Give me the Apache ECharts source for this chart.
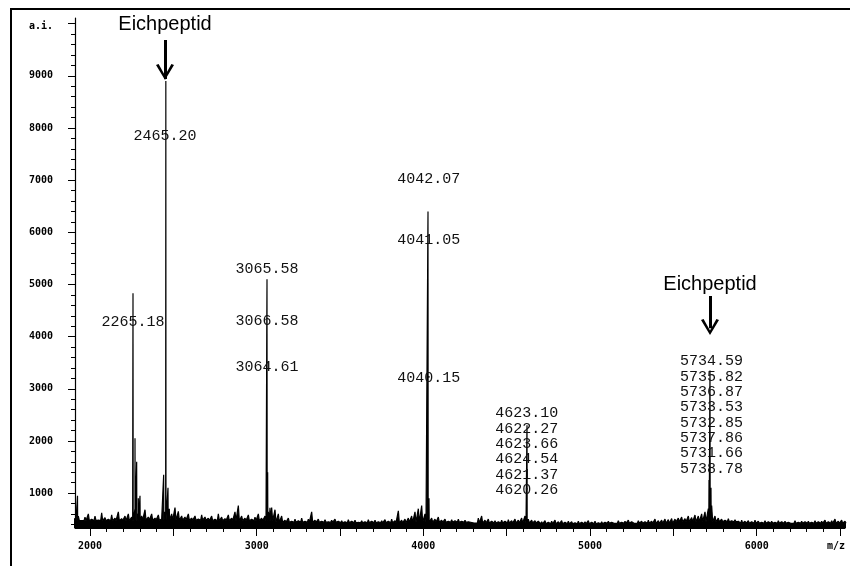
<!DOCTYPE html>
<html>
<head>
<meta charset="utf-8">
<script src="https://cdn.jsdelivr.net/npm/echarts@6/dist/echarts.min.js"></script>
<style>html,body{margin:0;padding:0;background:#fff}#c{width:850px;height:566px}</style>
</head>
<body>
<div id="c"></div>
<script>
// ---- data ----
const xAxisName = 'm/z';
const yAxisName = 'a.i.';
const xTickLabels = [2000, 3000, 4000, 5000, 6000];
const yTickLabels = [1000, 2000, 3000, 4000, 5000, 6000, 7000, 8000, 9000];
// baseline noise spike tops, one every 20 m/z starting at m/z 1910
const noiseStartMz = 1910;
const noiseStepMz = 20;
const noise = [
  520, 560, 470, 540, 600, 500, 560, 480, 620, 530, 500, 580, 520, 640, 510, 560, 600, 540, 700, 620,
  560, 680, 540, 600, 520, 580, 500, 640, 560, 600, 720, 650, 560, 540, 600, 520, 560, 500, 580, 540,
  520, 560, 500, 600, 540, 510, 580, 520, 640, 760, 560, 520, 580, 500, 540, 600, 520, 560, 640, 720,
  680, 600, 560, 480, 520, 460, 500, 470, 520, 460, 500, 640, 480, 500, 460, 490, 450, 480, 500, 460,
  470, 450, 490, 460, 480, 440, 470, 450, 490, 460, 480, 450, 470, 490, 460, 500, 470, 660, 480, 500,
  520, 560, 640, 700, 760, 600, 560, 520, 500, 540, 480, 500, 460, 490, 470, 500, 460, 480, 450, 470,
  460, 520, 560, 480, 500, 460, 470, 450, 480, 460, 490, 470, 500, 480, 520, 560, 500, 480, 470, 460,
  450, 470, 440, 460, 480, 450, 470, 440, 460, 450, 430, 460, 440, 450, 470, 440, 460, 430, 450, 440,
  460, 440, 450, 470, 440, 460, 480, 450, 440, 470, 460, 450, 480, 460, 500, 470, 480, 500, 490, 510,
  500, 520, 540, 510, 560, 530, 580, 560, 600, 640, 700, 760, 560, 520, 500, 480, 510, 470, 490, 460,
  480, 460, 470, 450, 480, 460, 440, 470, 450, 460, 440, 470, 450, 460, 440, 450, 470, 440, 460, 450,
  460, 440, 470, 450, 460, 480, 450, 470, 500, 460, 480, 460
];
// noise floor between spikes, one value per 400 m/z block (20 samples)
const noiseFloor = [470, 480, 470, 440, 430, 440, 425, 410, 420, 450, 420, 420];
// peaks (m/z as drawn, intensity)
const peakMz     = [1925, 2258, 2270, 2280, 2290, 2300, 2442, 2455, 2468, 2476, 3062, 3066, 3080, 4028, 4034, 4622, 5714, 5720, 5726];
const peakHeight = [ 950, 4830, 2050, 1600,  900,  950, 1350, 8900, 1100,  700, 5100, 1400,  720, 6400,  900, 2300, 1250, 3350, 1100];
// peak annotations
const annotTexts = [
  ['2265.18'],
  ['2465.20'],
  ['3065.58'], ['3066.58'], ['3064.61'],
  ['4042.07'], ['4041.05'], ['4040.15'],
  ['4623.10', '4622.27', '4623.66', '4624.54', '4621.37', '4620.26'],
  ['5734.59', '5735.82', '5736.87', '5733.53', '5732.85', '5737.86', '5731.66', '5738.78']
];
const calibText = 'Eichpeptid';

// ---- build ----
const floorAt = mz => noiseFloor[Math.min(noiseFloor.length - 1, Math.max(0, Math.floor((mz - noiseStartMz) / (noiseStepMz * 20))))];
const pts = [];
noise.forEach((v, i) => {
  const mz = noiseStartMz + i * noiseStepMz;
  const f = floorAt(mz);
  pts.push([mz - 6, f], [mz, v], [mz + 6, f]);
});
peakMz.forEach((mz, i) => {
  const b = floorAt(mz);
  pts.push([mz - 1, b], [mz, peakHeight[i]], [mz + 1, b]);
});
pts.sort((a, b) => a[0] - b[0]);

const xMin = 1910, xMax = 6530, yMin = 330, yMax = 10110;
const xMajor = [], xMinor = [];
for (let v = 2000; v <= 6500; v += 100) { (v % 500 === 0 ? xMajor : xMinor).push(v); }
const yMajor = [], yMinor = [];
for (let v = 400; v <= 10000; v += 200) { (v % 1000 === 0 ? yMajor : yMinor).push(v); }
const xNamePos = 6476, yNamePos = 9950;

const annotAnchors = [
  [2258, 4286], [2450, 7847],
  [3062, 5296], [3062, 4299], [3062, 3411],
  [4033, 7022], [4033, 5853], [4033, 3200],
  [4620, 1793], [5729, 2497]
];
const monoLabel = {fontFamily: 'Liberation Mono', fontSize: 15, color: '#111', lineHeight: 15.3};
const mpData = annotTexts.map((lines, i) => ({
  coord: annotAnchors[i], symbol: 'rect', symbolSize: 1,
  itemStyle: {color: 'rgba(0,0,0,0)'},
  label: Object.assign({show: true, position: 'inside', formatter: lines.join('\n')}, monoLabel)
}));
const calibSpots = [[2450, 9994, 9688, 8940], [5720, 5009, 4779, 4160]];
calibSpots.forEach(c => {
  mpData.push({coord: [c[0], c[1]], symbol: 'rect', symbolSize: 1, itemStyle: {color: 'rgba(0,0,0,0)'},
    label: {show: true, position: 'inside', formatter: calibText, fontFamily: 'Liberation Sans', fontSize: 20, color: '#000'}});
});
const chev = 'path://M0,1 L2.6,0 L9,11.5 L15.4,0 L18,1 L9,16 Z';
const mlData = [];
calibSpots.forEach(c => {
  mlData.push([{coord: [c[0], c[2]]}, {coord: [c[0], c[3]]}]);
});
const headSpots = [[2450, 8920], [5720, 4031]];
headSpots.forEach(h => {
  mpData.push({coord: h, symbol: chev, symbolSize: [18, 16], symbolOffset: [0, -8], itemStyle: {color: '#000'}, label: {show: false}});
});

const tickFont = {fontFamily: 'DejaVu Sans Mono', fontWeight: 'bold', fontSize: 10, color: '#000'};
const chart = echarts.init(document.getElementById('c'), null, {renderer: 'canvas'});
chart.setOption({
  animation: false,
  backgroundColor: '#fff',
  grid: {left: 75, right: 5, top: 18, bottom: 38},
  xAxis: [
    {type: 'value', min: xMin, max: xMax, position: 'bottom',
      axisLine: {show: true, onZero: false, lineStyle: {color: '#000', width: 1}},
      axisTick: {show: true, customValues: xMajor, length: 8, lineStyle: {color: '#000'}},
      axisLabel: Object.assign({show: true, customValues: xTickLabels.concat([xNamePos]), margin: 13,
        formatter: v => v === xNamePos ? xAxisName : String(v)}, tickFont),
      splitLine: {show: false}},
    {type: 'value', min: xMin, max: xMax, position: 'bottom',
      axisLine: {show: false}, axisTick: {show: true, customValues: xMinor, length: 4, lineStyle: {color: '#000'}},
      axisLabel: {show: false}, splitLine: {show: false}}
  ],
  yAxis: [
    {type: 'value', min: yMin, max: yMax, position: 'left',
      axisLine: {show: true, onZero: false, lineStyle: {color: '#000', width: 1.2}},
      axisTick: {show: true, customValues: yMajor, length: 7, lineStyle: {color: '#000'}},
      axisLabel: Object.assign({show: true, customValues: yTickLabels.concat([yNamePos]), margin: 22,
        formatter: v => v === yNamePos ? yAxisName : String(v)}, tickFont),
      splitLine: {show: false}},
    {type: 'value', min: yMin, max: yMax, position: 'left',
      axisLine: {show: false}, axisTick: {show: true, customValues: yMinor, length: 4, lineStyle: {color: '#000'}},
      axisLabel: {show: false}, splitLine: {show: false}}
  ],
  graphic: [{type: 'rect', shape: {x: 11, y: 9, width: 860, height: 580}, style: {fill: null, stroke: '#000', lineWidth: 2}, silent: true}],
  series: [{
    type: 'line', xAxisIndex: 0, yAxisIndex: 0, data: pts, symbol: 'none', sampling: null,
    lineStyle: {color: '#000', width: 1.2}, itemStyle: {color: '#000'},
    areaStyle: {color: '#000', opacity: 1, origin: 'start'},
    markLine: {silent: true, symbol: 'none', label: {show: false}, lineStyle: {color: '#000', width: 3, type: 'solid'}, data: mlData},
    markPoint: {silent: true, data: mpData}
  }]
});
</script>
</body>
</html>
